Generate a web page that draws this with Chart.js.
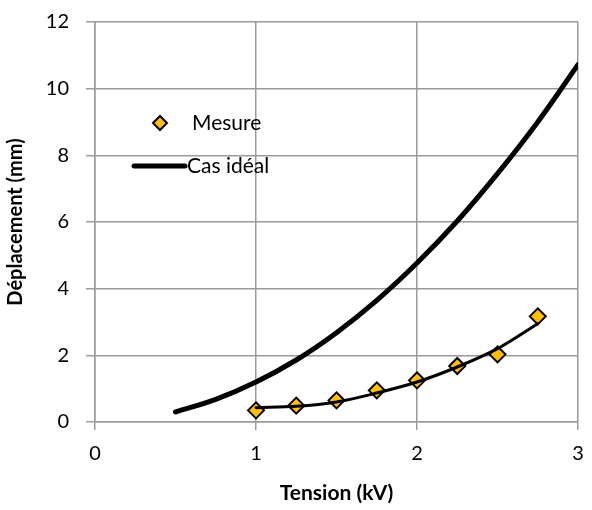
<!DOCTYPE html>
<html>
<head>
<meta charset="utf-8">
<script src="https://cdn.jsdelivr.net/npm/chart.js@4/dist/chart.umd.min.js"></script>
<style>
  html,body{margin:0;padding:0;background:#fff;}
  canvas{display:block;}
</style>
</head>
<body>
<canvas id="chart" width="592" height="510"></canvas>
<script>
/* DATA */
const tension=[1,1.25,1.5,1.75,2,2.25,2.5,2.75];
const mesure=[0.35,0.49,0.65,0.95,1.25,1.68,2.03,3.17];
const tendance=[0.43,0.47,0.6,0.87,1.2,1.65,2.2,2.95];
const tensionIdeal=[0.5,0.75,1,1.25,1.5,1.75,2,2.25,2.5,2.75,3];
const casIdeal=[0.3,0.68,1.2,1.86,2.68,3.65,4.77,6.03,7.45,9.0,10.72];
const xTicks=[0,1,2,3];
const yTicks=[0,2,4,6,8,10,12];

const FONT="Lato, 'Open Sans', sans-serif";
const toXY=(xs,ys)=>xs.map((x,i)=>({x:x,y:ys[i]}));

/* LEGEND inside plot */
const insideLegend={
  id:"insideLegend",
  afterDatasetsDraw(chart){
    const ctx=chart.ctx;
    ctx.save();
    // diamond
    const cx=160,cy=123,r=7;
    ctx.beginPath();
    ctx.moveTo(cx-r,cy);ctx.lineTo(cx,cy-r);ctx.lineTo(cx+r,cy);ctx.lineTo(cx,cy+r);ctx.closePath();
    ctx.fillStyle="#FFC000";ctx.fill();
    ctx.lineWidth=2;ctx.strokeStyle="#000";ctx.stroke();
    // line
    ctx.beginPath();
    ctx.moveTo(134,166);ctx.lineTo(185,166);
    ctx.lineWidth=5;ctx.lineCap="round";ctx.stroke();
    ctx.fillStyle="#000";
    ctx.font="21px "+FONT;
    ctx.textBaseline="middle";
    ctx.fillText("Mesure",192,123);
    ctx.fillText("Cas idéal",187,166);
    ctx.restore();
  }
};

new Chart(document.getElementById("chart"),{
  type:"scatter",
  data:{
    datasets:[
      {
        label:"Cas idéal",
        data:toXY(tensionIdeal,casIdeal),
        showLine:true,
        borderColor:"#000",
        borderWidth:5,
        pointRadius:0,
        cubicInterpolationMode:"monotone",
        borderCapStyle:"round",
        order:3
      },
      {
        label:"Mesure",
        data:toXY(tension,mesure),
        pointStyle:"rectRot",
        pointRadius:8,
        pointBackgroundColor:"#FFC000",
        pointBorderColor:"#000",
        pointBorderWidth:2,
        showLine:false,
        order:2
      },
      {
        label:"Tendance",
        data:toXY(tension,tendance),
        showLine:true,
        borderColor:"#000",
        borderWidth:3,
        pointRadius:0,
        cubicInterpolationMode:"monotone",
        borderCapStyle:"round",
        order:1
      }
    ]
  },
  options:{
    responsive:false,
    animation:false,
    layout:{padding:{top:22,right:14,left:0,bottom:0}},
    plugins:{legend:{display:false},tooltip:{enabled:false}},
    scales:{
      x:{
        type:"linear",min:0,max:3,
        afterBuildTicks:s=>{s.ticks=xTicks.map(v=>({value:v}));},
        afterFit:s=>{s.height=88;s.paddingLeft=0;s.paddingRight=0;},
        grid:{color:"#9a9a9a",lineWidth:1.5,tickLength:8},
        border:{color:"#9a9a9a",width:1.5},
        ticks:{color:"#000",font:{family:FONT,size:20},padding:12},
        title:{display:true,text:"Tension (kV)",color:"#000",font:{family:FONT,size:21,weight:"bold"},padding:{top:5}}
      },
      y:{
        min:0,max:12,
        afterBuildTicks:s=>{s.ticks=yTicks.map(v=>({value:v}));},
        afterFit:s=>{s.width=95;s.paddingTop=0;s.paddingBottom=0;},
        grid:{color:"#9a9a9a",lineWidth:1.5,tickLength:9},
        border:{color:"#9a9a9a",width:1.5},
        ticks:{color:"#000",font:{family:FONT,size:20},padding:17},
        title:{display:true,text:"Déplacement (mm)",color:"#000",font:{family:FONT,size:20,weight:"bold"},padding:{bottom:2}}
      }
    }
  },
  plugins:[insideLegend]
});
</script>
</body>
</html>
